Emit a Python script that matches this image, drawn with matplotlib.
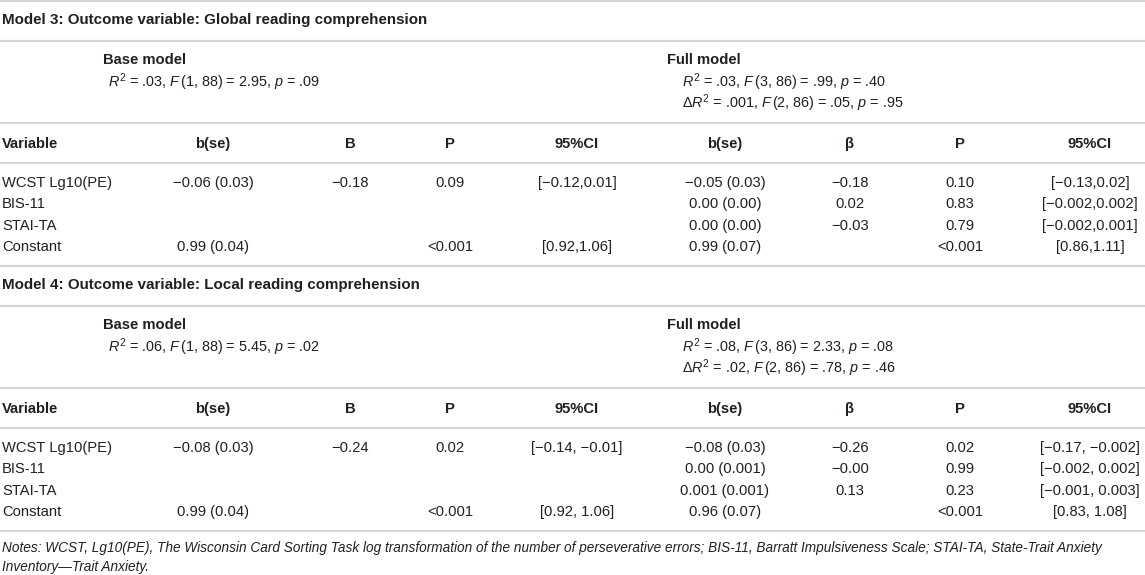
import matplotlib.pyplot as plt

plt.rcParams['font.family'] = ['Liberation Sans', 'DejaVu Sans']
plt.rcParams['mathtext.fontset'] = 'custom'
plt.rcParams['mathtext.rm'] = 'Liberation Sans'
plt.rcParams['mathtext.it'] = 'Liberation Sans:italic'
plt.rcParams['mathtext.bf'] = 'Liberation Sans:bold'

# table content
variables = ["WCST Lg10(PE)", "BIS-11", "STAI-TA", "Constant"]
header_left = ["b(se)", "B", "P", "95%CI"]
header_right = ["b(se)", "β", "P", "95%CI"]

m3_title = "Model 3: Outcome variable: Global reading comprehension"
m3_base_stats = [r"$R^2$ = .03, $F\,$(1, 88) = 2.95, $p$ = .09"]
m3_full_stats = [r"$R^2$ = .03, $F\,$(3, 86) = .99, $p$ = .40",
                 r"Δ$R^2$ = .001, $F\,$(2, 86) = .05, $p$ = .95"]
m3_bse_base = ["−0.06 (0.03)", "", "", "0.99 (0.04)"]
m3_b_base = ["−0.18", "", "", ""]
m3_p_base = ["0.09", "", "", "<0.001"]
m3_ci_base = ["[−0.12,0.01]", "", "", "[0.92,1.06]"]
m3_bse_full = ["−0.05 (0.03)", "0.00 (0.00)", "0.00 (0.00)", "0.99 (0.07)"]
m3_beta_full = ["−0.18", "0.02", "−0.03", ""]
m3_p_full = ["0.10", "0.83", "0.79", "<0.001"]
m3_ci_full = ["[−0.13,0.02]", "[−0.002,0.002]", "[−0.002,0.001]", "[0.86,1.11]"]

m4_title = "Model 4: Outcome variable: Local reading comprehension"
m4_base_stats = [r"$R^2$ = .06, $F\,$(1, 88) = 5.45, $p$ = .02"]
m4_full_stats = [r"$R^2$ = .08, $F\,$(3, 86) = 2.33, $p$ = .08",
                 r"Δ$R^2$ = .02, $F\,$(2, 86) = .78, $p$ = .46"]
m4_bse_base = ["−0.08 (0.03)", "", "", "0.99 (0.04)"]
m4_b_base = ["−0.24", "", "", ""]
m4_p_base = ["0.02", "", "", "<0.001"]
m4_ci_base = ["[−0.14, −0.01]", "", "", "[0.92, 1.06]"]
m4_bse_full = ["−0.08 (0.03)", "0.00 (0.001)", "0.001 (0.001)", "0.96 (0.07)"]
m4_beta_full = ["−0.26", "−0.00", "0.13", ""]
m4_p_full = ["0.02", "0.99", "0.23", "<0.001"]
m4_ci_full = ["[−0.17, −0.002]", "[−0.002, 0.002]", "[−0.001, 0.003]", "[0.83, 1.08]"]

notes = ["Notes: WCST, Lg10(PE), The Wisconsin Card Sorting Task log transformation of the number of "
         "perseverative errors; BIS-11, Barratt Impulsiveness Scale; STAI-TA, State-Trait Anxiety",
         "Inventory\u2014Trait Anxiety."]

# layout (pixel coordinates)
col_x = [213, 350, 450, 577, 725, 850, 960, 1090]
txt = "#231f20"
rule = "#d4d4d4"
fs = 10.6

fig = plt.figure(figsize=(11.45, 5.75), dpi=100)
ax = fig.add_axes([0, 0, 1, 1])
ax.set_xlim(0, 1145)
ax.set_ylim(575, 0)
ax.axis("off")


def draw_model(y0, title, base_stats, full_stats, cols):
    ax.hlines(y0, 0, 1145, color=rule, lw=1.6)
    ax.text(2, y0 + 19, title, fontsize=fs + 0.3, fontweight="bold", color=txt, va="center")
    ax.hlines(y0 + 40, 0, 1145, color=rule, lw=1.6)
    ax.text(103, y0 + 59, "Base model", fontsize=fs, fontweight="bold", color=txt, va="center")
    for i, s in enumerate(base_stats):
        ax.text(108, y0 + 81 + 21 * i, s, fontsize=fs - 0.2, color=txt, va="center")
    ax.text(667, y0 + 59, "Full model", fontsize=fs, fontweight="bold", color=txt, va="center")
    for i, s in enumerate(full_stats):
        ax.text(682, y0 + 81 + 21 * i, s, fontsize=fs - 0.2, color=txt, va="center")
    ax.hlines(y0 + 122, 0, 1145, color=rule, lw=1.6)
    hy = y0 + 143
    ax.text(2, hy, "Variable", fontsize=fs, fontweight="bold", color=txt, va="center")
    for x, h in zip(col_x, header_left + header_right):
        ax.text(x, hy, h, fontsize=fs, fontweight="bold", color=txt, va="center", ha="center")
    ax.hlines(y0 + 162, 0, 1145, color=rule, lw=1.6)
    for r, name in enumerate(variables):
        ry = y0 + 182 + 21.3 * r
        ax.text(2, ry, name, fontsize=fs, color=txt, va="center")
        for x, col in zip(col_x, cols):
            if col[r]:
                ax.text(x, ry, col[r], fontsize=fs, color=txt, va="center", ha="center")


draw_model(1, m3_title, m3_base_stats, m3_full_stats,
           [m3_bse_base, m3_b_base, m3_p_base, m3_ci_base,
            m3_bse_full, m3_beta_full, m3_p_full, m3_ci_full])
draw_model(266, m4_title, m4_base_stats, m4_full_stats,
           [m4_bse_base, m4_b_base, m4_p_base, m4_ci_base,
            m4_bse_full, m4_beta_full, m4_p_full, m4_ci_full])
ax.hlines(531, 0, 1145, color=rule, lw=1.6)

for i, line in enumerate(notes):
    ax.text(2, 548 + 19 * i, line, fontsize=9.8, style="italic", color=txt, va="center")

fig.savefig("out.png", dpi=100)
